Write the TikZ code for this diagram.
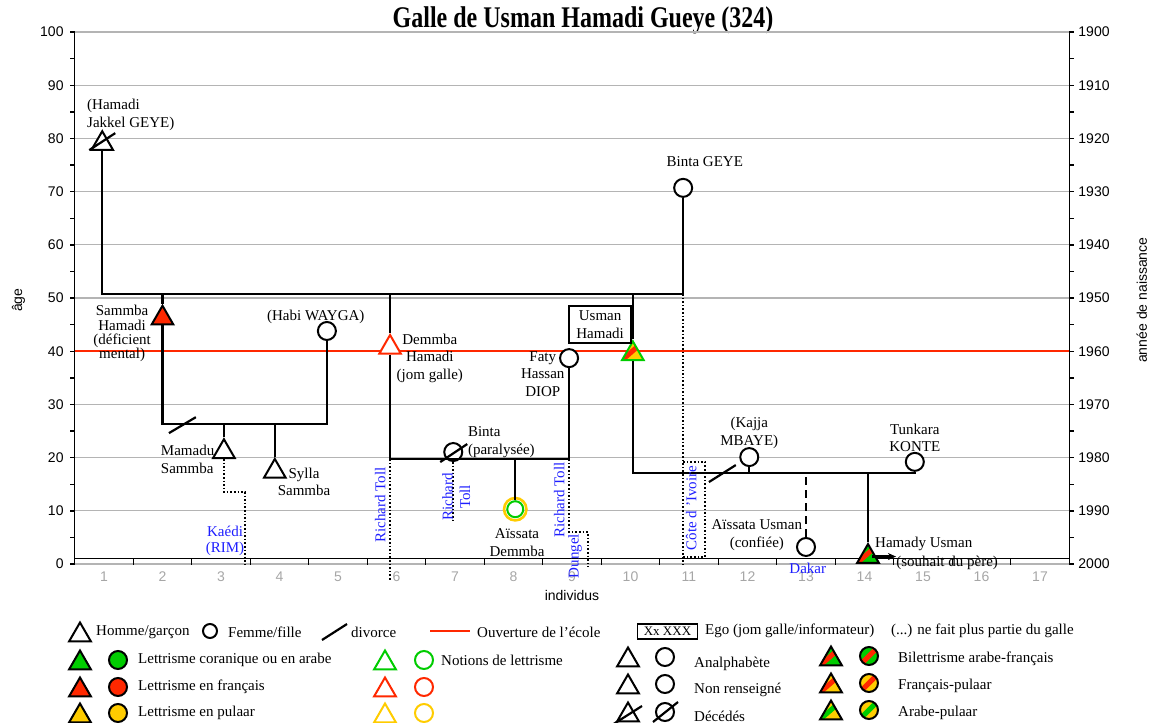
\documentclass[tikz,border=0pt]{standalone}
\usepackage{fontspec}
\setmainfont{Liberation Serif}
\setsansfont{Liberation Sans}
\usetikzlibrary{shapes.geometric,arrows.meta,positioning}
\definecolor{cgreen}{RGB}{0,204,0}
\definecolor{cred}{RGB}{255,40,0}
\definecolor{cyellow}{RGB}{255,204,0}
\definecolor{cblue}{RGB}{30,30,255}
\definecolor{cgrid}{RGB}{180,180,180}
\tikzset{
  man/.style={regular polygon, regular polygon sides=3, draw, line width=2pt, minimum size=25pt, inner sep=0pt, fill=white},
  woman/.style={circle, draw, line width=2pt, minimum size=18pt, inner sep=0pt, fill=white},
  band/.style 2 args={path picture={
      \fill[#1] (path picture bounding box.south west) rectangle (path picture bounding box.north east);
      \draw[#2, line width=5pt] (path picture bounding box.south west) -- (path picture bounding box.north east);}},
  kin/.style={line width=2.2pt},
  migr/.style={line width=1.6pt, dotted},
  school/.style={line width=2pt, cred},
  gridline/.style={line width=1.2pt, cgrid},
  axisline/.style={line width=1.4pt},
  lbl/.style={font=\fontsize{15}{17.5}\selectfont, inner sep=0pt, align=center},
  lbltight/.style={lbl, font=\fontsize{15}{14.3}\selectfont},
  town/.style={lbl, text=cblue},
  num/.style={font=\sffamily\fontsize{14}{16}\selectfont, inner sep=0pt},
  legtxt/.style={lbl, anchor=west},
}
\begin{document}
\begin{tikzpicture}[x=1pt, y=-1pt]
\useasboundingbox (0,0) rectangle (1152,723);
% titre
\node[font=\bfseries\fontsize{24}{24}\selectfont, inner sep=0pt] (title) at (583,20) {\scalebox{1}[1.25]{Galle de Usman Hamadi Gueye (324)}};

% graphique : individus en x, age en y
\begin{scope}[shift={(45.5,564)}, x=58.5pt, y=5.32pt]
  % grille
  \foreach \a in {0,10,...,100} \draw[gridline] (0.5,\a) -- (17.5,\a);
  % axes
  \draw[axisline] (0.5,0) -- (0.5,100);
  \draw[axisline] (17.5,0) -- (17.5,100);
  \draw[axisline] (0.5,1) -- (17.5,1);
  \foreach \a in {0,5,...,100} {
    \draw[axisline] (0.5,\a) -- ++(-5pt,0);
    \draw[axisline] (17.5,\a) -- ++(5pt,0);
  }
  \foreach \a in {0,10,...,100} {
    \pgfmathtruncatemacro\yr{2000-\a}
    \node[num, left=11pt] at (0.5,\a) {\a};
    \node[num, right=9pt] at (17.5,\a) {\yr};
  }
  \foreach \i in {1,...,16} \draw[axisline] (\i+0.5,1) -- ++(0,-6pt);
  \foreach \i in {1,...,17} \node[num, text=gray!70] at (\i,-2.45) {\i};
  \node[num] (xlab) at (9,-6) {individus};
  \node[num, rotate=90] (ylab) at (-0.46,49.6) {âge};
  \node[num, rotate=90] (ylab2) at (18.74,49.6) {année de naissance};

  % ouverture de l'ecole
  \draw[school] (0.5,40) -- (17.5,40);

  % individus
  \node[man] (jakkel) at (0.97,79) {};
  \node[man, fill=cred] (sammba) at (2,46.2) {};
  \node[woman] (habi) at (4.81,43.8) {};
  \node[man] (mamadu) at (3.05,21.1) {};
  \node[man] (sylla) at (3.92,17.4) {};
  \node[man, draw=cred] (demmba) at (5.89,40.7) {};
  \node[woman] (binta) at (6.97,21.05) {};
  \node[woman] (faty) at (8.95,38.7) {};
  \node[woman, draw=cgreen, minimum size=16pt] (aissatad) at (8.03,10.3) {};
  \draw[cyellow, line width=2.6pt] (aissatad) circle (11.2pt);
  \node[man, draw=cgreen, band={cyellow}{cred}] (usman) at (10.04,39.5) {};
  \node[woman] (bintageye) at (10.9,70.7) {};
  \node[woman] (kajja) at (12.03,20.1) {};
  \node[woman] (tunkara) at (14.86,19.2) {};
  \node[woman] (aissatau) at (13,3.2) {};
  \node[man, band={cgreen}{cred}] (hamady) at (14.06,1.4) {};
  \node[draw, fill=white, line width=2pt, lbl, font=\fontsize{15}{18}\selectfont, minimum width=62pt, minimum height=37pt] (ego) at (9.48,45) {Usman\\Hamadi};

  % unions et filiations
  \coordinate (u1) at (0.97,50.75);
  \coordinate (u1e) at (10.9,50.75);
  \draw[kin] (jakkel.south) -- (u1) -- (u1e) -- (bintageye.south);
  \draw[kin] (sammba.north) -- (sammba |- u1);
  \draw[kin] (demmba.north) -- (demmba |- u1);
  \draw[kin] (usman.north) -- (usman |- u1);

  \coordinate (u2) at (2,26.3);
  \draw[kin] (sammba.south) -- (u2) -| (habi.south);
  \draw[kin] (mamadu.north) -- (mamadu |- u2);
  \draw[kin] (sylla.north) -- (sylla |- u2);
  \draw[kin] (2.11,24.6) -- (2.57,27.6);

  \coordinate (u3) at (5.89,19.7);
  \draw[kin] (demmba.south) -- (u3) -| (faty.south);
  \draw[kin] (aissatad.north) -- (aissatad |- u3);

  \coordinate (u4) at (10.04,17.1);
  \draw[kin] (usman.south) -- (u4) -| (tunkara.south);
  \draw[kin] (kajja.south) -- (kajja |- u4);
  \draw[kin, dash pattern=on 8pt off 5pt] (aissatau.north) -- (aissatau |- u4);
  \draw[kin] (hamady.north) -- (hamady |- u4);
  \draw[kin] (11.34,15.4) -- (11.8,18.6);
  \draw[kin, -{Stealth[length=8pt,width=7pt]}] ([xshift=4pt]hamady.center) -- ([xshift=28pt]hamady.center);

  % decedes
  \draw[kin] ([shift={(-13pt,-6.4pt)}]jakkel.center) -- ([shift={(13pt,10.6pt)}]jakkel.center);
  \draw[kin] ([shift={(-13pt,-10pt)}]binta.center) -- ([shift={(14pt,8pt)}]binta.center);

  % migrations
  \draw[migr] (mamadu.south) -- (3.05,13.5) -- (3.41,13.5) -- (3.41,-0.2);
  \draw[migr] (u3) -- (5.89,-3);
  \draw[migr] (binta.south) -- (6.97,7.9);
  \draw[migr] (faty |- u3) -- (8.95,6) -- (9.27,6) -- (9.27,-0.56);
  \draw[migr] (u1e) -- (10.9,-0.2);
  \draw[migr] (10.9,19.2) -- (11.27,19.2) -- (11.27,1.3) -- (10.9,1.3);

  % noms
  \node[lbl, align=left, anchor=west] (ljakkel) at (0.71,84.4) {(Hamadi\\Jakkel GEYE)};
  \node[lbl] (lbintageye) at (11.27,75.6) {Binta GEYE};
  \node[lbltight] (lsammba) at (1.31,43.3) {Sammba\\Hamadi\\(déficient\\mental)};
  \node[lbl] (lhabi) at (4.62,46.4) {(Habi WAYGA)};
  \node[lbl, align=left, anchor=west] (lmamadu) at (1.97,19.7) {Mamadu\\Sammba};
  \node[lbl] (lsylla) at (4.42,15.4) {Sylla\\Sammba};
  \node[lbl] (ldemmba) at (6.57,38.7) {Demmba\\Hamadi\\(jom galle)};
  \node[lbl, align=left, anchor=west] (lbinta) at (7.22,22.9) {Binta\\(paralysée)};
  \node[lbl] (lfaty) at (8.5,35.7) {Faty\\Hassan\\DIOP};
  \node[lbl] (lkajja) at (12.03,24.6) {(Kajja\\MBAYE)};
  \node[lbl] (ltunkara) at (14.86,23.7) {Tunkara\\KONTE};
  \node[lbl] (laissatau) at (12.16,5.45) {Aïssata Usman\\(confiée)};
  \node[lbl, anchor=west] (lhamady) at (14.18,3.8) {Hamady Usman};
  \node[lbl, anchor=west] (lhamady2) at (14.54,0.2) {(souhait du père)};
  \node[lbl] (laissatad) at (8.06,4.0) {Aïssata\\Demmba};

  % lieux
  \node[town, font=\fontsize{15}{16}\selectfont, anchor=east] (lkaedi) at (3.4,4.3) {Kaédi\\(RIM)};
  \node[town, rotate=90] (lrt1) at (5.72,11.1) {Richard Toll};
  \node[town, rotate=90] (lrt2) at (7.02,12.6) {Richard\\Toll};
  \node[town, rotate=90] (lrt3) at (8.78,12.0) {Richard Toll};
  \node[town, rotate=90] (ldungel) at (9.05,1.5) {Dungel};
  \node[town, rotate=90] (lcote) at (11.04,10.5) {Côte d 'Ivoire};
  \node[town] (ldakar) at (13.03,-0.75) {Dakar};
\end{scope}

% legende
\node[man] (lman) at (80,635) {};
\node[legtxt] at (96,632) {Homme/garçon};
\node[woman, minimum size=14pt] (lwoman) at (210,631) {};
\node[legtxt] at (228,632) {Femme/fille};
\draw[kin] (322,640) -- (347,624);
\node[legtxt] at (351,632) {divorce};
\draw[school] (430,631) -- (470,631);
\node[legtxt] at (477,632) {Ouverture de l’école};
\node[draw, line width=1.6pt, minimum width=60pt, minimum height=15pt, inner sep=0pt, font=\fontsize{13}{13}\selectfont] (lego) at (667.5,631.5) {Xx XXX};
\node[legtxt] at (705,631) {Ego (jom galle/informateur)};
\node[legtxt] at (891,631) {(...) ne fait plus partie du galle};

\node[man, fill=cgreen] (lg1) at (80,663) {};
\node[woman, fill=cgreen] (lg2) at (118,660) {};
\node[legtxt] at (138,660) {Lettrisme coranique ou en arabe};
\node[man, draw=cgreen] (lg3) at (385,663) {};
\node[woman, draw=cgreen] (lg4) at (424,660) {};
\node[legtxt] at (441,660) {Notions de lettrisme};

\node[man, fill=cred] (lr1) at (80,690) {};
\node[woman, fill=cred] (lr2) at (118,687) {};
\node[legtxt] at (138,687) {Lettrisme en français};
\node[man, draw=cred] (lr3) at (385,690) {};
\node[woman, draw=cred] (lr4) at (424,687) {};

\node[man, fill=cyellow] (ly1) at (80,716) {};
\node[woman, fill=cyellow] (ly2) at (118,713) {};
\node[legtxt] at (138,713) {Lettrisme en pulaar};
\node[man, draw=cyellow] (ly3) at (385,716) {};
\node[woman, draw=cyellow] (ly4) at (424,713) {};

\node[man] (la1) at (628,660) {};
\node[woman] (la2) at (665,657) {};
\node[legtxt] at (694,664) {Analphabète};
\node[man] (ln1) at (628,687) {};
\node[woman] (ln2) at (665,684) {};
\node[legtxt] at (694,690) {Non renseigné};
\node[man] (ld1) at (628,715) {};
\node[woman] (ld2) at (665,712) {};
\draw[kin] ([shift={(-16pt,-10pt)}]ld1.center) -- ([shift={(14pt,9pt)}]ld1.center);
\draw[kin] ([shift={(-12pt,-10pt)}]ld2.center) -- ([shift={(13pt,10pt)}]ld2.center);
\node[legtxt] at (694,716) {Décédés};

\node[man, band={cgreen}{cred}] (lb1) at (831,659) {};
\node[woman, band={cgreen}{cred}] (lb2) at (869,656) {};
\node[legtxt] at (898,659) {Bilettrisme arabe-français};
\node[man, band={cyellow}{cred}] (lb3) at (831,686) {};
\node[woman, band={cyellow}{cred}] (lb4) at (869,683) {};
\node[legtxt] at (898,686) {Français-pulaar};
\node[man, band={cyellow}{cgreen}] (lb5) at (831,713) {};
\node[woman, band={cyellow}{cgreen}] (lb6) at (869,710) {};
\node[legtxt] at (898,713) {Arabe-pulaar};
\end{tikzpicture}
\end{document}
